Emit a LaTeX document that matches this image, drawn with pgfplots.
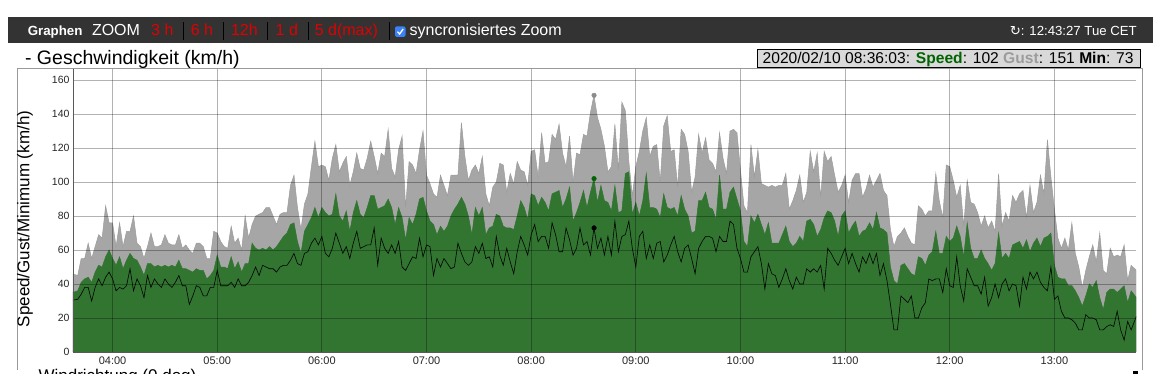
\documentclass[border=0pt]{standalone}
\usepackage{pgfplots}
\pgfplotsset{compat=1.18}
\usepackage{pgfplotstable}
\usepackage{fontspec}
\setmainfont{Liberation Sans}
\newfontfamily\dejavu{DejaVu Sans}
\definecolor{barbg}{HTML}{333333}
\definecolor{zoomred}{HTML}{E00000}
\definecolor{gustgray}{HTML}{A6A6A6}
\definecolor{gustline}{HTML}{9C9C9C}
\definecolor{speedgreen}{HTML}{317531}
\definecolor{leggreen}{HTML}{006400}
\definecolor{legbg}{HTML}{D9D9D9}
\definecolor{checkblue}{HTML}{3B82F6}
\newcommand{\fs}[1]{\fontsize{#1}{#1}\selectfont}

\pgfplotstableread{
t g s m
217 46 35 30.5
220 45 36 31
222 55 41 34
224 55 43 38
226 64 44 38
228 55 41 30
230 62 47 38
232 69 51 43
234 67 50 39
236 86 56 44
238 76 60 47
240 76 55 43
242 62 51 36
244 76 56 38
246 62 49 37
248 71 54 39
250 71 58 49
252 80 55 36
254 64 54 43
256 62 50 39
258 55 45 32
260 62 52 45
262 70 52 38
264 62 50 43
266 62 51 40
268 63 50 38
270 69 51 43
272 64 50 40
274 63 51 38
276 63 50 41
278 69 54 45
280 61 49 39
282 63 49 39
284 60 48 28
286 58 47 33
288 64 49 39
290 64 48 38
292 62 48 33
294 55 43 33
296 55 45 38
298 71 48 38
300 70 57 48
302 65 50 39
304 62 50 39
306 61 49 39
308 74 56 41
310 64 49 38
312 67 53 43
314 60 47 39
316 80 52 39
318 67 52 41
320 75 64 45
322 80 61 50
324 81 60 45
326 82 61 51
328 85 60 50
330 85 62 49
332 80 60 49
334 75 62 47
336 81 65 50
338 82 68 51
340 82 70 51
342 98 75 54
344 104 76 58
346 85 65 52
348 72 58 51
350 87 71 58
352 93 75 59
354 109 79 64
356 124 85 67
358 109 79 63
360 110 85 68
362 109 82 58
364 101 80 56
366 114 81 61
368 122 93 70
370 106 80 64
372 111 77 58
374 115 83 62
376 98 71 55
378 106 82 64
380 117 89 71
382 108 81 61
384 107 79 62
386 114 85 63
388 124 92 63
390 115 92 73
392 105 84 51
394 117 85 67
396 115 86 61
398 131 90 58
400 108 85 63
402 103 75 58
404 119 85 65
406 127 79 50
408 85 66 48
410 112 79 52
412 110 75 56
414 105 81 55
416 119 90 67
418 130 91 56
420 104 83 63
422 99 77 62
424 93 75 45
426 91 69 55
428 104 74 50
430 98 71 55
432 92 74 52
434 104 80 49
436 104 84 50
438 104 87 64
440 135 91 58
442 115 87 53
444 101 80 51
446 107 69 53
448 110 85 62
450 105 80 58
452 115 85 64
454 93 69 55
456 86 73 56
458 97 74 50
460 100 81 68
462 111 80 57
464 110 74 51
466 94 73 61
468 105 73 53
470 99 72 46
472 112 80 59
474 107 89 68
476 106 85 63
478 98 78 57
480 118 93 69
482 119 92 75
484 103 86 65
486 129 91 68
488 111 88 68
490 112 83 61
492 128 93 76
494 125 94 69
496 134 95 59
498 117 85 59
500 109 90 73
502 127 97 66
504 100 77 57
506 117 82 61
508 116 88 73
510 128 95 63
512 127 85 65
514 141 94 57
516 151 102 73
518 138 88 61
520 131 98 67
522 121 89 57
524 106 88 68
526 109 83 57
528 134 98 77
530 107 82 59
532 147 83 68
534 142 105 69
536 112 106 77
538 92 81 61
540 109 88 50
542 118 80 68
544 130 89 71
546 138 105 55
548 115 85 63
550 121 85 55
552 122 84 64
554 100 79 65
556 133 93 53
558 139 85 57
560 118 84 63
562 119 85 68
564 97 80 59
566 131 92 53
568 128 84 61
570 118 80 63
572 94 70 55
574 103 71 46
576 128 89 61
578 117 89 65
580 126 94 68
582 113 85 68
584 111 84 67
586 106 78 59
588 129 104 68
590 114 84 65
592 105 84 65
594 130 94 77
596 131 97 75
598 129 90 61
600 107 83 55
602 86 65 47
604 82 62 47
606 122 80 56
608 103 76 59
610 119 81 62
612 99 75 52
614 98 69 37
616 97 76 52
618 98 64 46
620 97 64 45
622 98 64 38
624 98 69 43
626 105 74 49
628 84 65 42
630 89 62 37
632 95 64 44
634 104 68 40
636 88 65 40
638 94 77 49
640 118 78 47
642 106 75 49
644 117 68 47
646 91 72 51
648 118 79 37
650 112 83 61
652 115 82 58
654 104 77 54
656 94 68 51
658 98 80 56
660 104 83 61
662 88 70 52
664 101 74 58
666 105 77 52
668 105 68 47
670 91 71 56
672 96 72 52
674 104 76 58
676 97 72 52
678 101 82 58
680 105 73 45
682 95 72 52
684 92 70 42
686 72 50 28
688 62 42 13
690 68 40 13
692 70 51 33
694 73 52 31
696 68 49 29
698 64 46 33
700 63 45 20
702 86 56 20
704 84 55 26
706 80 51 29
708 83 57 43
710 83 59 42
712 105 71 43
714 89 58 43
716 79 58 35
718 110 68 49
720 109 65 39
722 101 67 38
724 91 74 56
726 98 68 39
728 74 56 30
730 101 76 49
732 88 61 44
734 87 55 39
736 82 55 39
738 74 60 34
740 80 55 44
742 73 52 27
744 77 48 32
746 71 52 40
748 105 70 32
750 74 55 40
752 82 58 43
754 77 55 36
756 92 63 40
758 88 64 39
760 93 65 27
762 95 61 44
764 79 66 37
766 98 59 47
768 82 64 43
770 88 67 47
772 104 62 41
774 93 67 38
776 125 68 36
778 103 70 50
780 84 51 31
782 67 44 33
784 61 43 24
786 67 43 20
788 60 39 20
790 76 39 19
792 58 36 17
794 50 32 13
796 38 27 13
798 48 33 22
800 56 40 20
802 63 38 20
804 53 42 19
806 70 32 13
808 48 25 13
810 46 35 15
812 61 37 16
814 56 37 15
816 57 35 24
818 56 37 13
820 63 39 7
822 42 29 18
824 51 36 13
827 48 32 21
}\windtable

\begin{document}
\begin{tikzpicture}[x=1pt,y=1pt]
\useasboundingbox (0,0) rectangle (1160,374);
% top bar
\fill[barbg] (8,330.7) rectangle (1153,357.3);
\node[inner sep=0,anchor=base west,text=white] at (27.6,338.5) {\fs{13.3}\bfseries Graphen};
\node[inner sep=0,anchor=base west,text=white] at (91.8,338) {\fs{16}ZOOM};
\node[inner sep=0,anchor=base west,text=zoomred] at (151,338) {\fs{16}3 h};
\node[inner sep=0,anchor=base west,text=zoomred] at (190.6,338) {\fs{16}6 h};
\node[inner sep=0,anchor=base west,text=zoomred] at (230.8,338) {\fs{16}12h};
\node[inner sep=0,anchor=base west,text=zoomred] at (275.5,338) {\fs{16}1 d};
\node[inner sep=0,anchor=base west,text=zoomred] at (314.6,338) {\fs{16}5 d(max)};
\foreach \xx in {183.7,223,267,308,389.6} {\draw[black,line width=0.9pt] (\xx,334) -- (\xx,352);}
\fill[checkblue,rounded corners=1.5pt] (395,337) rectangle (405.5,347.5);
\draw[white,line width=1.3pt] (397.5,342.3) -- (399.6,340) -- (403.2,345);
\node[inner sep=0,anchor=base west,text=white] at (409.5,338) {\fs{16}syncronisiertes Zoom};
\node[inner sep=0,anchor=base east,text=white] at (1137,338.5) {\fs{13.2}{\dejavu\symbol{"21BB}}: 12:43:27 Tue CET};
% title
\node[inner sep=0,anchor=base west] at (24.9,309.5) {\fs{19.5}- Geschwindigkeit (km/h)};
% chart frame
\draw[gray!80,line width=0.8pt] (17,4) -- (17,305.6) -- (1142,305.6) -- (1142,4);
% legend box
\draw[fill=legbg,draw=black,line width=0.8pt] (757,306.5) rectangle (1140.5,324.5);
\node[inner sep=0,anchor=base west] at (762.5,310) {\fs{15.6}2020/02/10 08:36:03: \textbf{\textcolor{leggreen}{Speed}}: 102 \textbf{\textcolor{gustline}{Gust}}: 151 \textbf{Min}: 73};
% y label
\node[inner sep=0,rotate=90] at (25,155) {\fs{17}Speed/Gust/Minimum (km/h)};
% bottom partial text (cut by the page edge, as in the reference)
\node[inner sep=0,anchor=base west] at (28,-8) {\fs{17}- Windrichtung (0 deg)};
\fill[black] (1133,0) rectangle (1138,3);
\begin{axis}[
  at={(73pt,22pt)}, anchor=south west,
  scale only axis, width=1063pt, height=283pt,
  xmin=217.3, xmax=826.8, ymin=0, ymax=166.5,
  xtick={240,300,360,420,480,540,600,660,720,780},
  xticklabels={04:00,05:00,06:00,07:00,08:00,09:00,10:00,11:00,12:00,13:00},
  ytick={0,20,40,60,80,100,120,140,160},
  grid=major,
  major grid style={black,opacity=0.3,line width=0.8pt},
  axis on top,
  axis x line*=bottom, axis y line*=left,
  axis line style={black!65,line width=0.8pt,-},
  major tick length=0pt,
  /pgf/number format/assume math mode=true,
  xticklabel style={font=\fs{11},text=black!85,yshift=-1.5pt},
  yticklabel style={font=\fs{10.5},text=black!85},
]
\addplot[fill=gustgray,draw=gustline,line width=0.5pt] table[x=t,y=g]{\windtable} \closedcycle;
\addplot[fill=speedgreen,draw=speedgreen,line width=0.5pt] table[x=t,y=s]{\windtable} \closedcycle;
\addplot[black,line width=0.6pt] table[x=t,y=m]{\windtable};
\addplot[only marks,mark=*,mark size=2.3pt,color=gray!110!black] coordinates {(516.05,151)};
\addplot[only marks,mark=*,mark size=2.3pt,color=leggreen] coordinates {(516.05,102)};
\addplot[only marks,mark=*,mark size=2.3pt,color=black] coordinates {(516.05,73)};
\end{axis}
\end{tikzpicture}
\end{document}
